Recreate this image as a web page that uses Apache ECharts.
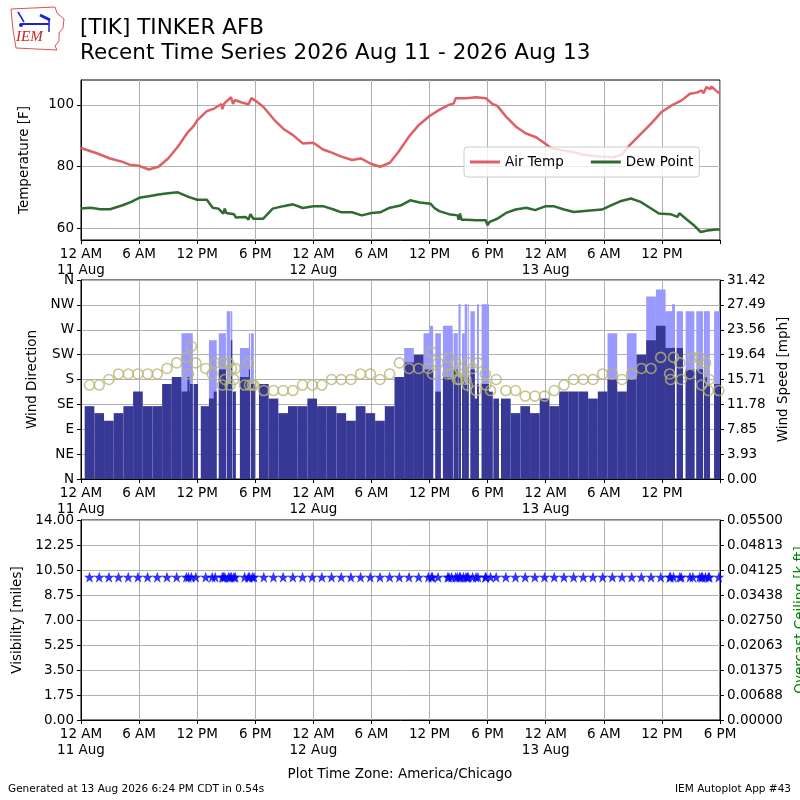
<!DOCTYPE html>
<html>
<head>
<meta charset="utf-8">
<script src="https://cdn.jsdelivr.net/npm/echarts@6/dist/echarts.min.js"></script>
<style>
  html, body { margin: 0; background: #fff; }
  #chart { width: 800px; height: 800px; }
</style>
</head>
<body>
<div id="chart"></div>
<script>
// hours since 11 Aug 00:00 local (America/Chicago)
const tempHour = [0, 1.7, 3, 4.3, 5, 6, 7, 8, 9, 10, 11, 11.6, 12, 13, 13.8, 14.5, 14.6, 14.8, 15.2, 15.5,
  15.7, 15.9, 16.6, 17.3, 17.6, 18, 18.8, 20, 21, 21.9, 22.9, 24, 25, 25.9, 26.9, 28, 28.9, 30, 30.9, 31.9,
  32.8, 33.9, 34.9, 36, 37, 38, 38.5, 38.7, 39, 39.8, 40.8, 41.8, 42.5, 43, 43.9, 44.9, 45.9, 47, 48, 48.6,
  49.7, 50.7, 52, 53.5, 54.9, 55.8, 56.7, 57.7, 58.9, 60, 61.1, 62, 62.9, 63.6, 64.1, 64.3, 64.6, 65.0, 65.1,
  65.5, 66];
const tempF = [86.0, 84.2, 82.6, 81.5, 80.6, 80.2, 79.0, 79.9, 82.6, 86.4, 91.0, 93.0, 95.0, 98.0, 98.9, 100.3, 98.6, 100.5, 101.6, 102.5,
  100.3, 101.6, 100.8, 100.2, 102.2, 101.4, 99.5, 95.0, 92.0, 90.2, 87.5, 87.7, 85.5, 84.5, 83.2, 82.1, 82.6, 80.8, 79.9, 81.2,
  84.8, 89.8, 93.5, 96.4, 98.4, 100.0, 100.5, 102.2, 102.2, 102.2, 102.5, 102.2, 100.3, 99.7, 96.2, 93.0, 90.8, 89.5, 87.3, 85.9,
  85.3, 84.8, 83.7, 83.2, 83.0, 83.7, 87.0, 90.2, 94.0, 97.8, 100.0, 101.4, 103.6, 104.0, 104.7, 103.8, 105.8, 105.1, 106.0,
  104.9, 103.6];

const dewHour = [0, 1, 2, 3, 4.3, 5.2, 6, 7, 8, 9, 10, 11.1, 12, 13, 13.6, 14.2, 14.7, 14.85, 15.0, 15.8,
  16, 17, 17.3, 17.5, 17.8, 18.8, 19.8, 20.9, 21.9, 22.9, 24, 25, 26.1, 26.9, 28, 29, 30, 30.9, 31.9, 33,
  34, 35, 36.1, 36.5, 37, 38, 38.9, 39.0, 39.15, 39.3, 39.8, 40.8, 41.0, 41.8, 42, 42.2, 43, 43.9, 44.9, 46,
  46.9, 48, 48.8, 49.9, 50.9, 52, 53.8, 54.8, 55.8, 56.8, 57.8, 58.8, 59.7, 60.9, 61.6, 61.8, 62.6, 63.3, 64, 64.7,
  64.9, 65.6, 66];
const dewF = [66.3, 66.6, 66.1, 66.1, 67.4, 68.5, 69.8, 70.3, 70.9, 71.3, 71.6, 70.1, 69.2, 69.2, 66.6, 66.3, 64.7, 66.3, 64.9, 64.5,
  63.4, 63.6, 62.7, 64.5, 63.0, 63.0, 66.3, 67.1, 67.7, 66.5, 67.1, 67.1, 66.0, 65.1, 65.1, 64.1, 64.9, 65.1, 66.6, 67.3,
  69.0, 68.3, 67.9, 66.5, 65.5, 64.5, 64.1, 62.7, 64.7, 62.7, 62.7, 62.5, 62.1, 62.5, 60.9, 62.0, 63.0, 64.9, 66.0, 66.6,
  65.8, 67.1, 67.1, 66.0, 65.2, 65.5, 66.0, 67.4, 68.8, 69.6, 68.5, 66.5, 64.7, 64.5, 63.6, 64.8, 62.7, 60.9, 58.7, 59.2,
  58.9, 59.5, 59.5];

// METAR observations (routine at :53 plus specials)
const obsHour = [-0.12, 0.88, 1.88, 2.88, 3.88, 4.88, 5.88, 6.88, 7.88, 8.88, 9.88, 10.88, 11.1, 11.4, 11.86, 12.88,
  13.55, 13.86, 14.6, 14.7, 14.86, 15.24, 15.4, 15.55, 15.8, 15.93, 16.9, 17.28, 17.4, 17.7, 17.88, 18.88, 19.88,
  20.88, 21.88, 22.88, 23.88, 24.88, 25.88, 26.88, 27.88, 28.88, 29.88, 30.88, 31.88, 32.88, 33.88, 34.88, 35.88,
  36.2, 36.3, 36.88, 37.88, 38.0, 38.27, 38.7, 38.88, 39.1, 39.2, 39.5, 39.76, 39.9, 40.0, 40.45, 40.8, 41.0, 41.76,
  41.83, 42.3, 42.88, 43.88, 44.88, 45.88, 46.88, 47.88, 48.88, 49.88, 50.88, 51.88, 52.88, 53.88, 54.88, 55.88,
  56.88, 57.88, 58.88, 59.88, 60.8, 60.9, 61.2, 61.85, 62.0, 62.9, 63.2, 63.9, 64.1, 64.2, 64.5, 64.8, 64.9, 65.88];
const windDir = [170, 170, 170, 180, 190, 190, 190, 190, 190, 200, 210, 220, 190, 240, 210, 200,
  190, 210, 170, 210, 180, 210, 170, 200, 180, 200, 170, 210, 170, 170, 170, 160, 160,
  160, 160, 170, 170, 170, 180, 180, 180, 190, 190, 180, 190, 210, 200, 200, 200,
  230, 190, 210, 190, 220, 190, 210, 180, 180, 200, 190, 180, 170, 210, 200, 160, 210, 190,
  170, 160, 180, 160, 160, 150, 150, 150, 160, 170, 180, 180, 180, 190, 190, 180,
  190, 200, 200, 220, 190, 180, 220, 210, 180, 190, 220, 220, 170, 200, 210, 160, 180, 160];
const windSpeed = [11.5, 11.5, 10.4, 9.2, 10.4, 11.5, 13.8, 11.5, 11.5, 15.0, 16.1, 13.8, 16.1, 15.0, 15.0, 11.5,
  12.7, 13.8, 17.3, 16.1, 16.1, 15.0, 15.0, 21.9, 13.8, 13.8, 16.1, 16.1, 17.3, 15.0, 15.0, 15.0, 12.7,
  10.4, 11.5, 11.5, 12.7, 11.5, 11.5, 10.4, 9.2, 11.5, 10.4, 9.2, 11.5, 16.1, 18.4, 19.6, 17.3,
  16.1, 16.1, 13.8, 16.1, 15.0, 16.1, 17.3, 15.0, 16.1, 15.0, 16.1, 15.0, 13.8, 16.1, 17.3, 12.7, 15.0, 15.0,
  15.0, 13.8, 12.7, 12.7, 10.4, 11.5, 10.4, 12.7, 11.5, 13.8, 13.8, 13.8, 12.7, 13.8, 15.7, 13.8,
  15.7, 19.6, 21.9, 24.2, 20.7, 20.7, 20.7, 20.7, 15.0, 17.3, 17.3, 17.3, 17.3, 17.3, 16.1, 15.0, 15.0, 15.0];
const windGust = [null, null, null, null, null, null, null, null, null, null, null, 23.0, 23.0, 23.0, null, null,
  21.9, 21.9, 23.0, null, null, 26.5, null, 26.5, null, null, 20.7, 20.7, 23.0, 23.0, null, null, null,
  null, null, null, null, null, null, null, null, null, null, null, null, null, 20.7, null, 23.0,
  24.2, null, 23.0, 24.2, 21.9, 23.0, 23.0, null, 27.6, null, 23.0, 27.6, null, 27.6, 26.5, null, 27.6, 27.6,
  null, null, null, null, null, null, null, null, null, null, null, null, null, null, 23.0, null,
  23.0, null, 28.8, 29.9, 26.5, 26.5, 27.6, 26.5, null, 26.5, null, 26.5, null, null, 26.5, 26.5, null, 26.5];
const visMiles = [10, 10, 10, 10, 10, 10, 10, 10, 10, 10, 10, 10, 10, 10, 10, 10,
  10, 10, 10, 10, 10, 10, 10, 10, 10, 10, 10, 10, 10, 10, 10, 10, 10,
  10, 10, 10, 10, 10, 10, 10, 10, 10, 10, 10, 10, 10, 10, 10, 10,
  10, 10, 10, 10, 10, 10, 10, 10, 10, 10, 10, 10, 10, 10, 10, 10, 10, 10,
  10, 10, 10, 10, 10, 10, 10, 10, 10, 10, 10, 10, 10, 10, 10, 10,
  10, 10, 10, 10, 10, 10, 10, 10, 10, 10, 10, 10, 10, 10, 10, 10, 10, 10];

const hourLabels = { 0: '12 AM', 6: '6 AM', 12: '12 PM', 18: '6 PM' };
const dayLabels = ['11 Aug', '12 Aug', '13 Aug'];
const tempTicks = [60, 80, 100];
const dirLabels = ['N', 'NE', 'E', 'SE', 'S', 'SW', 'W', 'NW', 'N'];
const speedTicks = ['0.00', '3.93', '7.85', '11.78', '15.71', '19.64', '23.56', '27.49', '31.42'];
const ceilTicks = ['0.00000', '0.00688', '0.01375', '0.02063', '0.02750', '0.03438', '0.04125', '0.04813', '0.05500'];

const FONT = 'DejaVu Sans';
const FS = 13.5;
const GRID_COLOR = '#b0b0b0';

const zip = (xs, ys) => xs.map((x, i) => [x, ys[i]]);

// bar width = time since previous ob, centered on the ob (first ob has no bar)
function barData(values) {
  const out = [];
  for (let i = 1; i < obsHour.length; i++) {
    if (values[i] == null) continue;
    out.push([obsHour[i], obsHour[i] - obsHour[i - 1], values[i]]);
  }
  return out;
}

function barRenderer(color) {
  return (params, api) => {
    const t = api.value(0), w = api.value(1), v = api.value(2);
    const p0 = api.coord([t - w / 2, v]);
    const p1 = api.coord([t + w / 2, 0]);
    const cs = params.coordSys;
    const rect = echarts.graphic.clipRectByRect(
      { x: p0[0], y: p0[1], width: p1[0] - p0[0], height: p1[1] - p0[1] },
      { x: cs.x, y: cs.y, width: cs.width, height: cs.height });
    return rect && { type: 'rect', shape: rect, style: { fill: color } };
  };
}

function timeAxis(gridIndex, hideLast) {
  return {
    type: 'value', gridIndex, min: 0, max: 66, interval: 6,
    axisLine: { onZero: false, lineStyle: { color: '#000' } },
    axisTick: { length: 4, lineStyle: { color: '#000' } },
    splitLine: { show: true, lineStyle: { color: GRID_COLOR } },
    axisLabel: {
      color: '#000', fontFamily: FONT, fontSize: FS, lineHeight: 16, margin: 6,
      formatter: v => {
        if (hideLast && v === 66) return '';
        const hod = v % 24;
        if (hod === 0) return hourLabels[0] + '\n' + dayLabels[v / 24];
        return hourLabels[hod];
      }
    }
  };
}

const nameStyle = { color: '#000', fontFamily: FONT, fontSize: FS };
const labelStyle = { color: '#000', fontFamily: FONT, fontSize: FS, margin: 7 };
const tickStyle = { length: 4, lineStyle: { color: '#000' } };
const gridBase = { left: 81, right: 80, show: true, borderColor: '#000', borderWidth: 1,
  containLabel: false, outerBoundsMode: 'none' };

const chart = echarts.init(document.getElementById('chart'), null, { renderer: 'canvas' });

chart.setOption({
  animation: false,
  backgroundColor: '#fff',
  textStyle: { fontFamily: FONT },
  grid: [
    Object.assign({ top: 80, height: 160 }, gridBase),
    Object.assign({ top: 280, height: 199 }, gridBase),
    Object.assign({ top: 520, height: 200 }, gridBase)
  ],
  xAxis: [timeAxis(0, true), timeAxis(1, true), timeAxis(2, false)],
  yAxis: [
    {
      type: 'value', gridIndex: 0, min: 56.1, max: 108.1, splitNumber: 3,
      name: 'Temperature [F]', nameLocation: 'middle', nameGap: 50, nameTextStyle: nameStyle,
      axisLine: { lineStyle: { color: '#000' } },
      axisTick: Object.assign({ customValues: tempTicks }, tickStyle),
      axisLabel: Object.assign({ customValues: tempTicks }, labelStyle),
      splitLine: { show: true, lineStyle: { color: GRID_COLOR } }
    },
    {
      type: 'value', gridIndex: 1, min: 0, max: 360, interval: 45,
      name: 'Wind Direction', nameLocation: 'middle', nameGap: 32, nameTextStyle: nameStyle,
      axisLine: { lineStyle: { color: '#000' } },
      axisTick: tickStyle,
      axisLabel: Object.assign({ formatter: v => dirLabels[Math.round(v / 45)] }, labelStyle),
      splitLine: { show: true, lineStyle: { color: GRID_COLOR } }
    },
    {
      type: 'value', gridIndex: 1, position: 'right', min: 0, max: 31.416, interval: 3.927,
      name: 'Wind Speed [mph]', nameLocation: 'middle', nameGap: 56, nameTextStyle: nameStyle,
      axisLine: { show: true, lineStyle: { color: '#000' } },
      axisTick: tickStyle,
      axisLabel: Object.assign({ formatter: v => speedTicks[Math.round(v / 3.927)] }, labelStyle),
      splitLine: { show: false }
    },
    {
      type: 'value', gridIndex: 2, min: 0, max: 14, interval: 1.75,
      name: 'Visibility [miles]', nameLocation: 'middle', nameGap: 55, nameTextStyle: nameStyle,
      axisLine: { lineStyle: { color: '#000' } },
      axisTick: tickStyle,
      axisLabel: Object.assign({ formatter: v => v.toFixed(2) }, labelStyle),
      splitLine: { show: true, lineStyle: { color: GRID_COLOR } }
    },
    {
      type: 'value', gridIndex: 2, position: 'right', min: 0, max: 0.055, interval: 0.006875,
      name: 'Overcast Ceiling [k ft]', nameLocation: 'middle', nameGap: 70,
      nameTextStyle: { color: '#008000', fontFamily: FONT, fontSize: FS },
      axisLine: { show: true, lineStyle: { color: '#000' } },
      axisTick: tickStyle,
      axisLabel: Object.assign({ formatter: v => ceilTicks[Math.round(v / 0.006875)] }, labelStyle),
      splitLine: { show: false }
    }
  ],
  legend: {
    left: 464, top: 147, padding: [8, 6], itemWidth: 30, itemHeight: 3, itemGap: 27,
    icon: 'rect',
    backgroundColor: 'rgba(255,255,255,0.8)', borderColor: '#cccccc', borderWidth: 1, borderRadius: 3,
    textStyle: { color: '#000', fontFamily: FONT, fontSize: FS },
    data: ['Air Temp', 'Dew Point']
  },
  series: [
    {
      name: 'Air Temp', type: 'line', xAxisIndex: 0, yAxisIndex: 0, showSymbol: false,
      data: zip(tempHour, tempF), color: '#de5f65', lineStyle: { width: 2.5 }, z: 2
    },
    {
      name: 'Dew Point', type: 'line', xAxisIndex: 0, yAxisIndex: 0, showSymbol: false,
      data: zip(dewHour, dewF), color: '#2e6b31', lineStyle: { width: 2.5 }, z: 2
    },
    {
      name: 'Gust', type: 'custom', xAxisIndex: 1, yAxisIndex: 2, z: 1,
      renderItem: barRenderer('#9999ff'), encode: { x: 0, y: 2 }, data: barData(windGust)
    },
    {
      name: 'Speed', type: 'custom', xAxisIndex: 1, yAxisIndex: 2, z: 2,
      renderItem: barRenderer('#383896'), encode: { x: 0, y: 2 }, data: barData(windSpeed)
    },
    {
      name: 'Direction', type: 'scatter', xAxisIndex: 1, yAxisIndex: 1, z: 3,
      symbol: 'circle', symbolSize: 10,
      itemStyle: { color: 'rgba(0,0,0,0)', borderColor: '#b7b775', borderWidth: 1.6 },
      data: zip(obsHour, windDir)
    },
    {
      name: 'Visibility', type: 'scatter', xAxisIndex: 2, yAxisIndex: 3, z: 3,
      symbol: 'path://M12,0 L14.9,8.3 L23.4,8.3 L16.5,13.5 L19,22 L12,16.8 L5,22 L7.5,13.5 L0.6,8.3 L9.1,8.3 Z',
      symbolSize: 11, itemStyle: { color: '#0000ff' },
      data: zip(obsHour, visMiles)
    }
  ],
  graphic: [
    // IEM logo
    {
      type: 'polyline', z: 10,
      shape: { points: [[11, 9], [55, 7], [57, 13], [64, 19], [63, 28], [59, 33], [59, 41], [55, 46], [57, 50], [16, 48], [13, 30], [11, 9]] },
      style: { stroke: '#e05050', fill: null, lineWidth: 1 }
    },
    { type: 'line', z: 10, shape: { x1: 22, y1: 24, x2: 49, y2: 24 }, style: { stroke: '#2020d0', lineWidth: 2 } },
    { type: 'line', z: 10, shape: { x1: 18, y1: 12, x2: 24, y2: 22 }, style: { stroke: '#2020d0', lineWidth: 1.5 } },
    { type: 'line', z: 10, shape: { x1: 40, y1: 15, x2: 50, y2: 20 }, style: { stroke: '#2020d0', lineWidth: 3 } },
    { type: 'line', z: 10, shape: { x1: 49, y1: 20, x2: 49, y2: 32 }, style: { stroke: '#2020d0', lineWidth: 1.5 } },
    { type: 'circle', z: 10, shape: { cx: 21, cy: 25, r: 2 }, style: { fill: '#2020d0' } },
    {
      type: 'text', z: 10, left: 16, top: 30,
      style: { text: 'IEM', fill: '#d02020', font: 'italic 15px "Liberation Serif", serif' }
    },
    // titles
    {
      type: 'text', left: 80, top: 17,
      style: { text: '[TIK] TINKER AFB', fill: '#000', font: '21.5px "DejaVu Sans"' }
    },
    {
      type: 'text', left: 80, top: 42,
      style: { text: 'Recent Time Series 2026 Aug 11 - 2026 Aug 13', fill: '#000', font: '21.5px "DejaVu Sans"' }
    },
    {
      type: 'text', left: 'center', top: 767,
      style: { text: 'Plot Time Zone: America/Chicago', fill: '#000', font: '13.5px "DejaVu Sans"' }
    },
    {
      type: 'text', left: 8, top: 784,
      style: { text: 'Generated at 13 Aug 2026 6:24 PM CDT in 0.54s', fill: '#000', font: '10.5px "DejaVu Sans"' }
    },
    {
      type: 'text', right: 9, top: 784,
      style: { text: 'IEM Autoplot App #43', fill: '#000', font: '10.5px "DejaVu Sans"' }
    }
  ]
});
</script>
</body>
</html>
